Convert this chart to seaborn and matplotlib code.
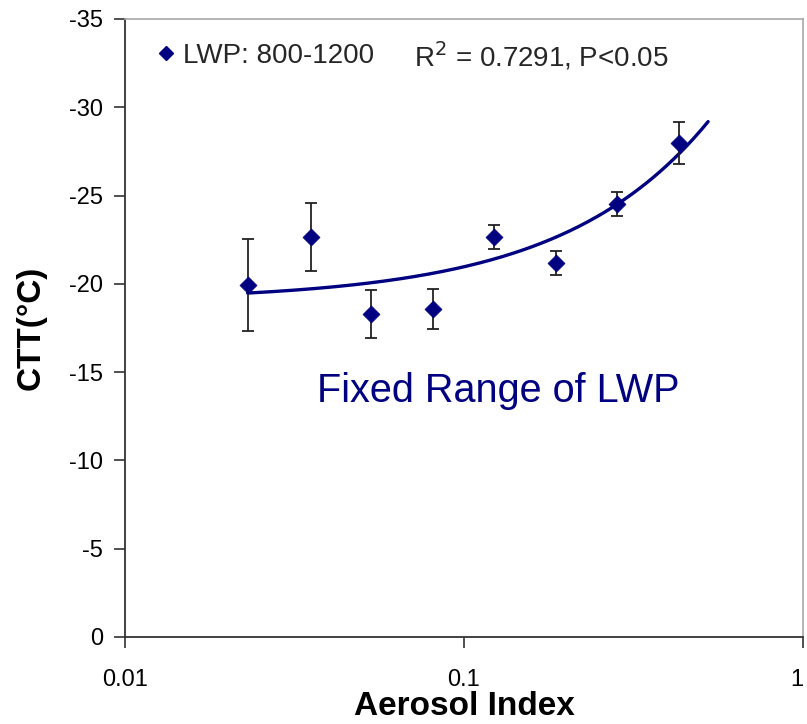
import numpy as np
import pandas as pd
import seaborn as sns
from matplotlib import pyplot as plt
from matplotlib.lines import Line2D

aerosol_index = [0.0230, 0.0353, 0.0533, 0.0810, 0.1225, 0.1865, 0.2818, 0.4318]
ctt = [-19.93, -22.65, -18.29, -18.57, -22.65, -21.18, -24.52, -27.97]
ctt_err = [2.6, 1.9, 1.35, 1.15, 0.7, 0.68, 0.7, 1.2]
fit_end = 0.525  # trendline forecast end
x_ticks = [0.01, 0.1, 1]
x_tick_labels = ['0.01', '0.1', '1']
y_ticks = [0, -5, -10, -15, -20, -25, -30, -35]

navy = '#000080'

sns.set_style('ticks')
plt.rcParams['font.family'] = ['Liberation Sans', 'DejaVu Sans']
plt.rcParams['axes.unicode_minus'] = False

df = pd.DataFrame({'ai': aerosol_index, 'ctt': ctt, 'err': ctt_err})

fig = plt.figure(figsize=(8.07, 7.24), dpi=100)
ax = fig.add_axes([0.1549, 0.1202, 0.8401, 0.8536])

# linear trendline (Excel style) on linear x, drawn on log axis
slope, intercept = np.polyfit(df['ai'], df['ctt'], 1)
xs = np.geomspace(df['ai'].min(), fit_end, 200)
sns.lineplot(x=xs, y=slope * xs + intercept, color=navy, lw=2.4, ax=ax)

ax.errorbar(df['ai'], df['ctt'], yerr=df['err'], fmt='none', ecolor='#222222',
            elinewidth=1.3, capsize=4, capthick=1.3, zorder=3)
sns.scatterplot(data=df, x='ai', y='ctt', marker='D', s=75, color=navy,
                edgecolor=navy, linewidth=0.5, zorder=4, ax=ax)

ax.set_xscale('log')
ax.set_xlim(0.01, 1)
ax.set_ylim(0, -35)
ax.set_xticks(x_ticks)
ax.set_xticklabels(x_tick_labels)
ax.minorticks_off()
ax.set_yticks(y_ticks)
ax.tick_params(axis='both', labelsize=17, direction='out', length=8, width=1.2,
               color='#333333', labelcolor='black')
ax.tick_params(axis='x', pad=15)
ax.tick_params(axis='y', pad=8)
ax.get_xticklabels()[-1].set_horizontalalignment('right')

for side in ['top', 'right']:
    ax.spines[side].set_visible(True)
    ax.spines[side].set_color('#a8a8a8')
    ax.spines[side].set_linewidth(1.2)
for side in ['left', 'bottom']:
    ax.spines[side].set_color('#333333')
    ax.spines[side].set_linewidth(1.3)

ax.set_xlabel('Aerosol Index', fontsize=24, fontweight='bold', labelpad=0, color='black')
ax.set_ylabel('CTT(°C)', fontsize=24, fontweight='bold', labelpad=16, color='black')

handle = Line2D([], [], marker='D', ls='none', color=navy, markersize=7)
ax.legend([handle], ['LWP: 800-1200'], loc='center left', bbox_to_anchor=(0.048, 0.94),
          frameon=False, fontsize=20, handletextpad=0.3, handlelength=0.6,
          borderaxespad=0, borderpad=0)
ax.text(0.427, 0.94, 'R$^2$ = 0.7291, P<0.05', transform=ax.transAxes,
        fontsize=20, va='center', ha='left')
ax.text(0.283, 0.398, 'Fixed Range of LWP', transform=ax.transAxes,
        fontsize=28.5, color=navy, va='center', ha='left')

fig.savefig('out.png', dpi=100)
